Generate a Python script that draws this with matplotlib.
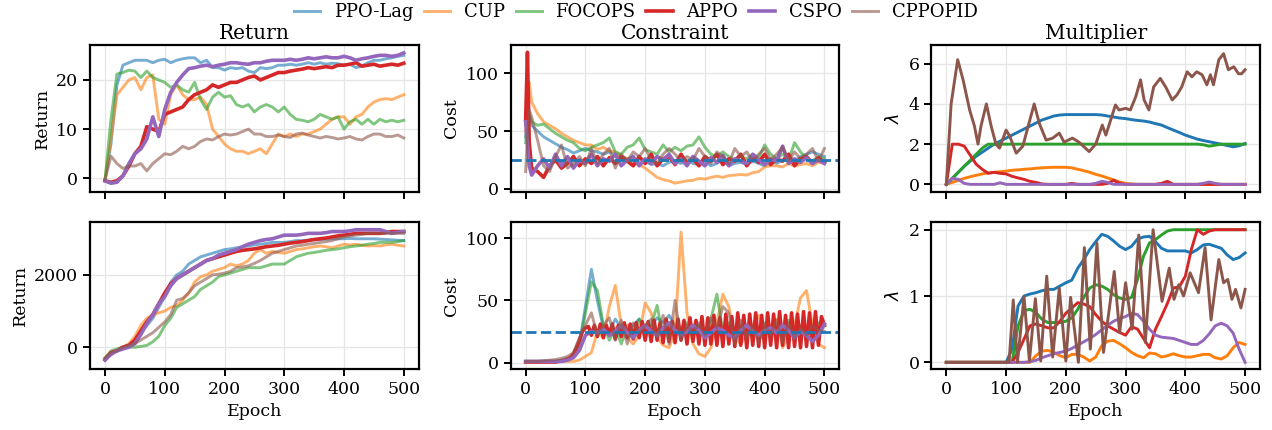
import numpy as np
import matplotlib.pyplot as plt

plt.rcParams['font.family'] = 'DejaVu Serif'
plt.rcParams['font.size'] = 12.5

algos = ['PPO-Lag', 'CUP', 'FOCOPS', 'APPO', 'CSPO', 'CPPOPID']
colors = ['tab:blue', 'tab:orange', 'tab:green', 'tab:red', 'tab:purple', 'tab:brown']
cost_limit = 25

ep10 = list(range(0, 501, 10))
ep5 = list(range(0, 501, 5))
ep_cost_top = [0, 3, 6] + list(range(10, 501, 10))

# ---- top row: Return ----
ret_top = {
    'PPO-Lag': [-0.5, 7, 19, 23, 23.5, 24, 24, 24, 23.5, 24, 24.2, 23.5, 24, 24.3, 24.5, 24.5, 23.5, 24, 22.5, 22.5,
                22, 22.5, 22.3, 22.5, 21.8, 21.5, 22.5, 22.3, 22.5, 23, 23, 23.2, 23, 23.2, 23.5, 23.2, 23.5, 23.2,
                23.4, 23.3, 23, 23.2, 22.5, 22.8, 23.5, 24, 24, 24.3, 24.5, 24.8, 25],
    'CUP': [-0.3, 8, 17, 18.5, 20, 20.5, 18, 20.5, 21, 12, 11, 17, 19, 17, 16, 16, 16.5, 15, 10, 8.5,
            7, 6, 5.5, 5.5, 5, 5.5, 6, 5, 7, 9, 8.5, 9, 8.5, 9, 9, 9.5, 10, 11, 12, 12.5,
            12.5, 11, 12.5, 13, 14.5, 15.5, 16, 16.2, 16, 16.5, 17],
    'FOCOPS': [-0.3, 12, 21.2, 21.5, 22, 21.8, 20.5, 21.8, 20.5, 20, 19.5, 18.5, 19, 18, 17.5, 19.5, 16, 14, 16.5, 17.5,
               16.5, 16.8, 15, 14.5, 15, 13.5, 14.5, 15, 14.5, 13.5, 14.5, 13, 12, 11.8, 11.5, 12, 13, 12.5, 12, 12.5,
               10, 11.5, 12, 11, 12, 11, 12, 11.5, 11.8, 11.5, 11.8],
    'APPO': [-0.5, -0.8, -0.5, 0.5, 2.5, 5, 6.5, 10.5, 10, 9.5, 13, 13.5, 14, 14.5, 16, 17, 17.5, 18, 19, 18.5,
             19, 19.5, 19.5, 20, 20.5, 20.8, 20, 20.5, 21, 21.5, 21.5, 21.8, 22, 22.2, 22.5, 22.3, 22.5, 22.7, 22.5, 23,
             23, 23.2, 23.5, 22.8, 23, 23.2, 22.8, 23, 23.2, 23, 23.4],
    'CSPO': [-0.5, -1, -0.8, 0.5, 3, 5, 6, 8, 12.5, 8.5, 14, 17.5, 19.5, 21, 22.3, 22.5, 22.8, 23, 22.7, 23,
             23.2, 23.5, 23.5, 23.3, 23.2, 23.5, 23.5, 23.8, 24, 24, 24, 24.2, 24, 24.2, 24.5, 24.3, 24.5, 24.7, 24.5, 24.5,
             24.8, 24.5, 24, 24.3, 24.5, 24.8, 25, 25, 24.8, 25, 25.5],
    'CPPOPID': [-0.3, 4.5, 3, 2, 2.5, 2.5, 3, 1.5, 3, 4, 5, 4.8, 5.5, 6.5, 6, 6.5, 7.5, 8, 7.8, 8.5,
                9, 8.8, 9, 9.5, 10, 9, 9, 8.5, 8.5, 8.8, 8.5, 8.3, 9, 9.2, 8.8, 8.5, 8.2, 8.5, 8.3, 8,
                8.2, 8.5, 8, 7.8, 8.5, 9, 9, 8.5, 8.5, 8.8, 8.2],
}

# ---- top row: Cost ----
cost_top = {
    'PPO-Lag': [45, 60, 62, 55, 50, 45, 42, 39, 36, 34, 31, 33, 35, 33, 32, 30, 32, 30, 28, 26, 25, 22, 24,
                21, 22, 20, 23, 24, 22, 25, 22, 21, 24, 20, 22, 25, 20, 22, 23, 21, 24, 22, 20, 24, 22, 25,
                27, 24, 28, 30, 32, 30, 28],
    'CUP': [50, 90, 92, 75, 65, 58, 55, 52, 48, 45, 42, 40, 38, 38, 34, 36, 33, 32, 28, 26, 22, 21, 18,
            14, 10, 8, 7, 5, 6, 7, 7.5, 9, 8.5, 10, 11, 10, 11.5, 12, 12.5, 12, 14, 15, 19, 20, 20,
            19, 22, 20, 21, 22, 20, 23, 22],
    'FOCOPS': [40, 70, 65, 58, 55, 56, 52, 48, 45, 42, 40, 35, 33, 36, 38, 40, 44, 32, 30, 36, 38, 44, 34,
               32, 30, 38, 32, 36, 33, 37, 38, 45, 36, 30, 28, 32, 28, 25, 28, 26, 30, 27, 38, 30, 26,
               30, 25, 40, 32, 26, 24, 28, 26],
    'APPO': [60, 118, 40, 18, 15, 10, 20, 25, 18, 22, 28, 20, 26, 22, 28, 20, 27, 22, 28, 24, 20, 28, 22,
             30, 20, 26, 28, 21, 30, 22, 26, 20, 28, 24, 30, 21, 26, 24, 30, 20, 27, 23, 30, 21, 26,
             24, 30, 20, 26, 28, 22, 27, 23],
    'CSPO': [58, 40, 20, 12, 20, 26, 18, 30, 20, 28, 18, 25, 22, 30, 20, 26, 24, 30, 20, 25, 28, 20, 26,
             22, 28, 25, 30, 22, 26, 20, 28, 24, 20, 27, 23, 29, 20, 26, 24, 22, 30, 25, 21, 26, 24,
             37, 22, 26, 23, 27, 22, 25, 22],
    'CPPOPID': [15, 45, 68, 62, 42, 20, 15, 28, 38, 18, 22, 28, 20, 35, 22, 30, 35, 18, 30, 24, 32, 28, 35,
                25, 22, 30, 35, 30, 24, 28, 25, 35, 28, 22, 32, 28, 22, 35, 28, 32, 24, 30, 35, 25, 30,
                36, 24, 32, 26, 30, 35, 24, 35],
}

# ---- top row: Multiplier ----
lam_top = {
    'PPO-Lag': [0, 0.3, 0.6, 0.9, 1.15, 1.4, 1.6, 1.8, 2.0, 2.15, 2.3, 2.45, 2.6, 2.75, 2.9, 3.05, 3.2, 3.3, 3.4, 3.45,
                3.47, 3.47, 3.47, 3.47, 3.47, 3.47, 3.45, 3.4, 3.35, 3.3, 3.27, 3.22, 3.18, 3.15, 3.1, 3.02, 2.95, 2.82,
                2.7, 2.58, 2.45, 2.35, 2.25, 2.18, 2.12, 2.06, 2.0, 1.93, 1.87, 1.92, 2.03],
    'CUP': [0, 0.1, 0.2, 0.3, 0.38, 0.45, 0.52, 0.57, 0.6, 0.63, 0.66, 0.7, 0.72, 0.75, 0.77, 0.8, 0.82, 0.84, 0.85, 0.85,
            0.85, 0.82, 0.75, 0.68, 0.6, 0.5, 0.42, 0.32, 0.22, 0.12, 0.05, 0.02, 0, 0, 0, 0, 0, 0, 0, 0,
            0, 0, 0, 0, 0, 0, 0, 0, 0, 0, 0],
    'FOCOPS': [0, 0.3, 0.6, 0.9, 1.2, 1.5, 1.8, 2.0, 2.0, 2.0, 2.0, 2.0, 2.0, 2.0, 2.0, 2.0, 2.0, 2.0, 2.0, 2.0,
               2.0, 2.0, 2.0, 2.0, 2.0, 2.0, 2.0, 2.0, 2.0, 2.0, 2.0, 2.0, 2.0, 2.0, 2.0, 2.0, 2.0, 2.0, 2.0, 2.0,
               2.0, 2.0, 2.0, 1.97, 1.9, 1.95, 2.0, 2.0, 2.0, 2.0, 2.0],
    'APPO': [0, 2.0, 2.0, 1.9, 1.45, 1.0, 0.75, 0.55, 0.6, 0.55, 0.52, 0.4, 0.32, 0.25, 0.15, 0.1, 0.02, 0, 0, 0,
             0, 0.05, 0, 0, 0, 0, 0, 0.05, 0.2, 0.05, 0, 0, 0, 0, 0, 0, 0.05, 0.15, 0, 0,
             0, 0, 0, 0, 0, 0, 0, 0, 0, 0, 0],
    'CSPO': [0, 0.3, 0.25, 0.05, 0, 0, 0, 0, 0, 0.08, 0, 0, 0, 0, 0, 0, 0, 0, 0, 0,
             0, 0, 0, 0, 0, 0.05, 0.15, 0.1, 0, 0, 0, 0, 0, 0, 0, 0, 0, 0, 0, 0,
             0, 0, 0, 0.05, 0.12, 0.05, 0, 0, 0, 0, 0],
}
pid_lam_top_ep = [0, 8, 19, 28, 39, 47, 53, 58, 67, 75, 83, 89, 100, 106, 117, 128, 147, 156, 167, 178,
                  189, 197, 211, 222, 239, 250, 261, 267, 283, 289, 300, 308, 317, 325, 331, 339, 347, 358, 367,
                  378, 386, 394, 403, 411, 419, 428, 436, 442, 447, 456, 464, 472, 481, 489, 494, 500]
pid_lam_top = [0, 4.0, 6.2, 5.2, 3.7, 2.9, 2.0, 2.9, 4.0, 2.9, 2.0, 1.8, 2.7, 2.4, 1.55, 1.9, 4.0, 3.0, 2.2, 2.3,
               2.55, 2.1, 2.3, 2.1, 1.63, 2.0, 2.95, 2.45, 3.95, 3.7, 3.78, 3.7, 4.36, 5.2, 4.2, 3.7, 4.85, 5.27, 4.85,
               4.2, 4.45, 4.85, 5.6, 5.35, 5.6, 5.45, 4.95, 5.45, 4.95, 6.2, 6.5, 5.7, 5.85, 5.5, 5.5, 5.7]

# ---- bottom row: Return ----
ret_bot = {
    'PPO-Lag': [-350, -200, -100, 0, 50, 150, 400, 600, 800, 1100, 1400, 1800, 2000, 2100, 2300, 2400, 2500, 2550,
                2600, 2650, 2700, 2720, 2750, 2780, 2800, 2830, 2850, 2870, 2900, 2900, 2900, 2920, 2950, 2950,
                2960, 2970, 2980, 2990, 3000, 3000, 3000, 3010, 3000, 3000, 3000, 3000, 2990, 2980, 2970, 2960, 2950],
    'CUP': [-300, -150, -100, 0, 100, 300, 600, 800, 900, 950, 1000, 1100, 1150, 1300, 1500, 1800, 1950, 2000,
            2100, 2150, 2200, 2300, 2250, 2300, 2400, 2600, 2700, 2600, 2650, 2620, 2600, 2650, 2700, 2720,
            2750, 2780, 2800, 2780, 2750, 2800, 2850, 2830, 2850, 2820, 2800, 2810, 2800, 2830, 2850, 2820, 2800],
    'FOCOPS': [-300, -100, -50, 0, 0, 0, 20, 50, 150, 300, 600, 800, 1100, 1200, 1300, 1400, 1600, 1700,
               1800, 1950, 2000, 2050, 2100, 2150, 2200, 2200, 2200, 2250, 2300, 2300, 2300, 2400, 2500, 2550,
               2600, 2620, 2650, 2680, 2700, 2720, 2750, 2780, 2800, 2820, 2850, 2870, 2900, 2900, 2900, 2920, 2950],
    'APPO': [-350, -150, -100, 0, 50, 200, 450, 700, 900, 1200, 1500, 1750, 1900, 2000, 2100, 2200, 2300, 2400,
             2450, 2500, 2550, 2600, 2650, 2680, 2700, 2720, 2750, 2780, 2800, 2820, 2850, 2880, 2900, 2920,
             2950, 2980, 3000, 3020, 3050, 3080, 3100, 3120, 3150, 3150, 3150, 3150, 3150, 3170, 3200, 3200, 3200],
    'CSPO': [-350, -200, -100, -50, 0, 100, 350, 650, 900, 1200, 1400, 1700, 1900, 2000, 2100, 2200, 2300, 2400,
             2450, 2550, 2600, 2650, 2700, 2780, 2850, 2900, 2950, 2980, 3000, 3050, 3100, 3100, 3100, 3120,
             3150, 3150, 3150, 3170, 3200, 3200, 3200, 3220, 3250, 3250, 3250, 3250, 3250, 3200, 3150, 3180, 3200],
    'CPPOPID': [-300, -150, -100, 0, 50, 100, 200, 300, 400, 550, 700, 900, 1300, 1350, 1500, 1700, 1800, 1900,
                2000, 2020, 2050, 2100, 2200, 2220, 2250, 2320, 2400, 2500, 2600, 2650, 2700, 2750, 2800, 2820,
                2850, 2870, 2900, 2920, 2950, 3000, 3050, 3080, 3100, 3120, 3150, 3150, 3150, 3150, 3150, 3150, 3150],
}

# ---- bottom row: Cost ----
cost_bot = {
    'PPO-Lag': [1, 1, 1, 1, 1, 1, 2, 3, 6, 15, 45, 75, 50, 28, 25, 35, 28, 25, 30, 35, 28, 30, 36, 32, 38,
                30, 25, 28, 22, 28, 25, 22, 28, 24, 27, 22, 28, 25, 23, 28, 25, 22, 28, 24, 26, 23, 27, 24,
                26, 28, 30],
    'CUP': [1, 1, 1, 1, 1, 1, 1, 1, 1, 2, 5, 8, 25, 20, 45, 62, 30, 20, 15, 22, 48, 40, 20, 14, 12,
            25, 105, 40, 15, 7, 5, 12, 32, 55, 45, 20, 15, 22, 30, 38, 22, 28, 35, 12, 22, 30, 52, 58,
            30, 15, 12],
    'FOCOPS': [1, 1, 1, 1, 1, 1, 1, 2, 5, 15, 40, 65, 58, 30, 18, 28, 15, 30, 22, 35, 20, 30, 46, 20, 30,
               24, 28, 32, 25, 30, 20, 35, 55, 25, 32, 18, 26, 30, 22, 28, 32, 24, 28, 22, 34, 25, 30, 22,
               28, 32, 30],
    'CSPO': [1, 1, 1, 1, 1, 1, 1, 2, 4, 10, 22, 25, 24, 27, 22, 25, 30, 24, 20, 26, 30, 25, 22, 28, 32,
             26, 22, 25, 30, 26, 20, 24, 28, 26, 22, 20, 26, 30, 25, 22, 26, 28, 24, 30, 26, 20, 25, 22,
             17, 22, 31],
    'CPPOPID': [1, 1, 1, 1.5, 2, 2.5, 3.5, 5, 8, 20, 30, 40, 22, 30, 36, 18, 34, 15, 32, 24, 30, 35, 20, 38, 15,
                50, 18, 30, 24, 32, 22, 36, 28, 45, 40, 15, 34, 20, 30, 16, 30, 22, 34, 16, 32, 20, 28, 22,
                30, 26, 25],
}
appo_cost_bot = [0.5, 0.5, 0.5, 0.5, 0.5, 0.5, 0.5, 0.5, 0.5, 0.5, 0.5, 1, 1.5, 2, 3, 4, 7, 12, 18, 25,
                 28, 29, 22, 30, 21, 31, 20, 30, 22, 31, 19, 30, 21, 32, 20, 31, 19, 32, 20, 33,
                 18, 33, 17, 34, 18, 32, 16, 35, 17, 33, 16, 35, 18, 34, 15, 36, 17, 34, 15, 37,
                 14, 36, 15, 38, 14, 36, 13, 39, 15, 37, 13, 40, 14, 38, 12, 39, 14, 40, 13, 38,
                 12, 40, 14, 39, 12, 41, 14, 38, 12, 40, 13, 39, 12, 41, 13, 40, 12, 41, 14, 37, 30]

# ---- bottom row: Multiplier ----
lam_bot = {
    'PPO-Lag': [0, 0, 0, 0, 0, 0, 0, 0, 0, 0, 0, 0.2, 0.85, 1.0, 1.03, 1.05, 1.08, 1.1, 1.1, 1.15, 1.2, 1.24, 1.42,
                1.55, 1.7, 1.82, 1.93, 1.9, 1.83, 1.75, 1.7, 1.75, 1.86, 1.89, 1.9, 1.82, 1.72, 1.68, 1.68, 1.68,
                1.68, 1.65, 1.7, 1.77, 1.78, 1.75, 1.72, 1.62, 1.55, 1.58, 1.65],
    'CUP': [0, 0, 0, 0, 0, 0, 0, 0, 0, 0, 0, 0, 0, 0, 0, 0.1, 0.17, 0.18, 0.15, 0.1, 0.07, 0.12, 0.12,
            0.08, 0.02, 0.08, 0.25, 0.32, 0.33, 0.28, 0.22, 0.15, 0.1, 0.07, 0.14, 0.13, 0.08, 0.1, 0.13, 0.1,
            0.08, 0.08, 0.1, 0.12, 0.12, 0.07, 0.05, 0.1, 0.22, 0.3, 0.27],
    'FOCOPS': [0, 0, 0, 0, 0, 0, 0, 0, 0, 0, 0, 0, 0.55, 0.78, 0.8, 0.75, 0.65, 0.6, 0.6, 0.6, 0.62, 0.67, 0.8,
               0.98, 1.12, 1.17, 1.15, 1.1, 1.02, 0.97, 0.95, 0.98, 1.25, 1.6, 1.8, 1.85, 1.92, 1.98, 2.0, 2.0,
               2.0, 2.0, 2.0, 2.0, 2.0, 2.0, 2.0, 2.0, 2.0, 2.0, 2.0],
    'APPO': [0, 0, 0, 0, 0, 0, 0, 0, 0, 0, 0, 0, 0.15, 0.35, 0.55, 0.58, 0.55, 0.52, 0.52, 0.62, 0.74, 0.82, 0.9,
             0.88, 0.84, 0.72, 0.62, 0.55, 0.5, 0.45, 0.41, 0.54, 0.5, 0.36, 0.22, 0.5, 0.69, 0.89, 1.12, 1.14,
             1.3, 1.7, 2.0, 1.93, 1.98, 2.0, 2.0, 2.0, 2.0, 2.0, 2.0],
    'CSPO': [0, 0, 0, 0, 0, 0, 0, 0, 0, 0, 0, 0, 0, 0, 0.01, 0.03, 0.07, 0.1, 0.13, 0.15, 0.17, 0.21, 0.26,
             0.31, 0.36, 0.42, 0.49, 0.56, 0.62, 0.66, 0.69, 0.74, 0.72, 0.62, 0.5, 0.41, 0.38, 0.37, 0.36, 0.33,
             0.3, 0.27, 0.27, 0.33, 0.43, 0.55, 0.59, 0.55, 0.44, 0.2, 0.0],
}
pid_lam_bot_ep = [0, 105, 112, 119, 130, 139, 149, 158, 168, 178, 189, 200, 208, 221, 231, 241, 252, 263,
                  281, 290, 300, 311, 322, 333, 346, 361, 373, 381, 389, 397, 408, 422, 433, 443, 456, 464,
                  471, 478, 484, 493, 500]
pid_lam_bot = [0, 0, 0.94, 0, 0.99, 0.02, 0.96, 0.02, 1.3, 0.08, 1.12, 0.02, 0.98, 0, 1.73, 0.2, 1.8, 0.15,
               1.37, 0.45, 1.2, 0.5, 1.92, 0.3, 2.0, 0.92, 1.42, 0.95, 1.17, 1.0, 1.35, 1.05, 1.73, 0.64, 1.55,
               1.2, 1.25, 0.95, 1.1, 0.82, 1.1]

fig, axes = plt.subplots(2, 3, figsize=(12.72, 4.3), dpi=100, sharex=True)
fig.subplots_adjust(left=0.0708, right=0.9906, top=0.8953, bottom=0.1419, hspace=0.21, wspace=0.28)

thick = {'APPO': 2.6, 'CSPO': 2.6}


def light(name):
    return 1.0 if name in ('APPO', 'CSPO') else 0.6


for row, ret in enumerate([ret_top, ret_bot]):
    for name, c in zip(algos, colors):
        axes[row, 0].plot(ep10, ret[name], color=c, alpha=light(name), lw=thick.get(name, 2.1), label=name)

for name, c in zip(algos, colors):
    axes[0, 1].plot(ep_cost_top, cost_top[name], color=c, alpha=light(name), lw=thick.get(name, 2.1))
    if name == 'APPO':
        axes[1, 1].plot(ep5, appo_cost_bot, color=c, lw=2.6)
    else:
        axes[1, 1].plot(ep10, cost_bot[name], color=c, alpha=light(name), lw=thick.get(name, 2.1))
    if name == 'CPPOPID':
        axes[0, 2].plot(pid_lam_top_ep, pid_lam_top, color=c, lw=2.1)
        axes[1, 2].plot(pid_lam_bot_ep, pid_lam_bot, color=c, lw=2.1)
    else:
        axes[0, 2].plot(ep10, lam_top[name], color=c, lw=2.1)
        axes[1, 2].plot(ep10, lam_bot[name], color=c, lw=2.1)

for r in range(2):
    axes[r, 1].axhline(cost_limit, color='tab:blue', ls='--', lw=2)

axes[0, 0].set_ylim(-2.7, 27.1)
axes[0, 1].set_ylim(-2.3, 124.3)
axes[0, 2].set_ylim(-0.36, 6.93)
axes[1, 0].set_ylim(-603, 3453)
axes[1, 1].set_ylim(-5.1, 112.7)
axes[1, 2].set_ylim(-0.1, 2.11)
axes[0, 0].set_yticks([0, 10, 20])
axes[0, 1].set_yticks([0, 50, 100])
axes[0, 2].set_yticks([0, 2, 4, 6])
axes[1, 0].set_yticks([0, 2000])
axes[1, 1].set_yticks([0, 50, 100])
axes[1, 2].set_yticks([0, 1, 2])

for ax in axes.flat:
    ax.set_xlim(-25, 525)
    ax.set_xticks([0, 100, 200, 300, 400, 500])
    ax.grid(color='#e6e6e6', lw=0.9)
    ax.set_axisbelow(True)
    for s in ax.spines.values():
        s.set_linewidth(1.6)
    ax.tick_params(direction='out', length=5, width=1.4, labelsize=12.5)

for ax, t in zip(axes[0], ['Return', 'Constraint', 'Multiplier']):
    ax.set_title(t, fontsize=14.5, pad=4)
for r in range(2):
    axes[r, 0].set_ylabel('Return', fontsize=12.5)
    axes[r, 1].set_ylabel('Cost', fontsize=12.5)
    axes[r, 2].set_ylabel(r'$\lambda$', fontsize=12.5)
for ax in axes[1]:
    ax.set_xlabel('Epoch', fontsize=12.5)

handles, labels = axes[0, 0].get_legend_handles_labels()
fig.legend(handles, labels, loc='upper center', bbox_to_anchor=(0.5, 1.03), ncol=6, frameon=False,
           fontsize=13, handlelength=1.45, handletextpad=0.75, columnspacing=0.6)

plt.savefig('out.png', dpi=100)
